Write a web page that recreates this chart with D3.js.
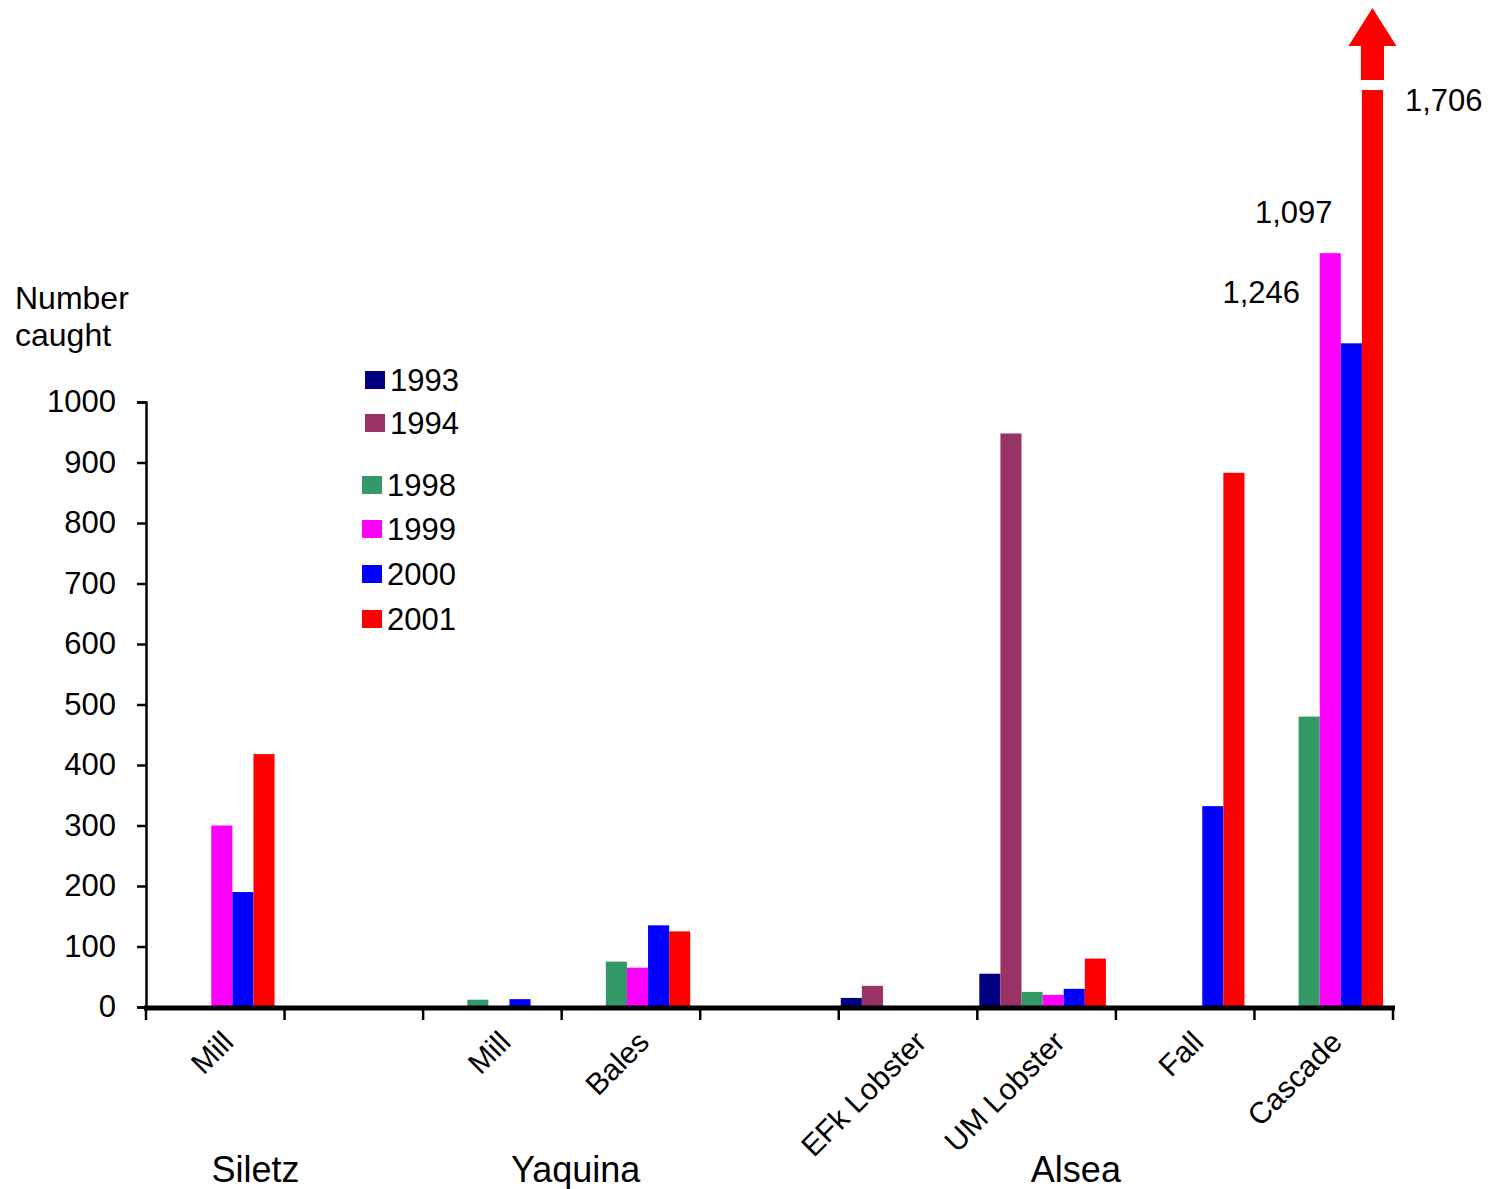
<!DOCTYPE html>
<html>
<head>
<meta charset="utf-8">
<script src="https://cdn.jsdelivr.net/npm/d3@7"></script>
<style>
  body { margin: 0; background: #fff; }
  text { font-family: "Liberation Sans", Arial, sans-serif; fill: #000; }
</style>
</head>
<body>
<div id="chart-area"></div>
<script>
// categories along the x axis ("" = empty slot)
var sites = ["Mill", "", "Mill ", "Bales", " ", "EFk Lobster", "UM Lobster", "Fall", "Cascade"];
var years = ["1993", "1994", "1998", "1999", "2000", "2001"];
var colors = ["#000080", "#993366", "#339966", "#ff00ff", "#0000ff", "#ff0000"];

// values per year, one entry per site (0 = no bar)
var v1993 = [0, 0, 0, 0, 0, 15, 55, 0, 0];
var v1994 = [0, 0, 0, 0, 0, 35, 948, 0, 0];
var v1998 = [0, 0, 12, 75, 0, 0, 25, 0, 480];
var v1999 = [300, 0, 0, 65, 0, 0, 20, 0, 1246];
var v2000 = [190, 0, 13, 135, 0, 0, 30, 332, 1097];
var v2001 = [418, 0, 0, 125, 0, 0, 80, 883, 1706];
var series = [v1993, v1994, v1998, v1999, v2000, v2001];

var yTicks = [0, 100, 200, 300, 400, 500, 600, 700, 800, 900, 1000];
var rivers = ["Siletz", "Yaquina", "Alsea"];

var svg = d3.select('#chart-area').append('svg')
    .attr('width', 1492)
    .attr('height', 1189);

var x0 = d3.scaleBand()
    .domain(sites)
    .range([146, 1393]);

var x1 = d3.scaleBand()
    .domain(years)
    .range([2, x0.bandwidth() - 10]);

var y = d3.scaleLinear()
    .domain([0, 1000])
    .range([1007, 402]);

// bars
var barTop = 90;   // the tallest bar is cut here and continued by an arrow
series.forEach((vals, si) => {
    svg.append('g')
        .selectAll('rect')
        .data(vals.map((v, i) => ({site: sites[i], value: v})).filter(d => d.value > 0))
        .enter()
        .append('rect')
            .attr('x', d => x0(d.site) + x1(years[si]))
            .attr('y', d => Math.max(y(d.value), barTop))
            .attr('width', x1.bandwidth())
            .attr('height', d => y(0) - Math.max(y(d.value), barTop))
            .attr('fill', colors[si]);
});

// arrow above the cut bar (Cascade 2001)
var ax = x0("Cascade") + x1("2001");
var aw = x1.bandwidth();
svg.append('rect')
    .attr('x', ax - 1).attr('y', 46)
    .attr('width', aw + 2).attr('height', 34)
    .attr('fill', colors[5]);
svg.append('path')
    .attr('d', 'M' + (ax + aw / 2 - 24) + ',46 L' + (ax + aw / 2) + ',8 L' + (ax + aw / 2 + 24) + ',46 Z')
    .attr('fill', colors[5]);

// y axis
var yAxis = svg.append('g')
    .attr('transform', 'translate(146,0)')
    .call(d3.axisLeft(y).tickValues(yTicks).tickFormat(d3.format('d')).tickSize(9).tickPadding(21));
yAxis.select('.domain').attr('stroke-width', 2.5);
yAxis.selectAll('.tick line').attr('stroke-width', 2.5);
yAxis.selectAll('.tick text')
    .style('font-size', '31px')
    .style('font-family', '"Liberation Sans", Arial, sans-serif');

// x axis
var tickPos = sites.map(s => x0(s)).concat([1393]);
svg.append('line')
    .attr('x1', 144).attr('x2', 1395)
    .attr('y1', 1008).attr('y2', 1008)
    .attr('stroke', '#000').attr('stroke-width', 5);
svg.append('g').selectAll('line')
    .data(tickPos)
    .enter()
    .append('line')
        .attr('x1', d => d).attr('x2', d => d)
        .attr('y1', 1008).attr('y2', 1020)
        .attr('stroke', '#000').attr('stroke-width', 2.5);

// category labels
svg.append('g').selectAll('text')
    .data(sites.filter(s => s.trim() != ""))
    .enter()
    .append('text')
        .attr('transform', d => 'translate(' + (x0(d) + x0.bandwidth() / 2 + 20) + ',1044) rotate(-45)')
        .attr('text-anchor', 'end')
        .style('font-size', '30px')
        .text(d => d.trim());

// river names
var riverX = [x0("Mill") + x0.bandwidth() * 0.79, x0("Bales") + 14, x0("Fall") - 40];
svg.append('g').selectAll('text')
    .data(rivers)
    .enter()
    .append('text')
        .attr('x', (d, i) => riverX[i])
        .attr('y', 1182)
        .attr('text-anchor', 'middle')
        .style('font-size', '36px')
        .text(d => d);

// y title
svg.append('text').attr('x', 15).attr('y', 309).style('font-size', '32px').text('Number');
svg.append('text').attr('x', 15).attr('y', 346).style('font-size', '32px').text('caught');

// legend
var legendY = [380, 423, 485, 529, 574, 619];
var legendX = [365, 365, 362, 362, 362, 362];
years.forEach((yr, i) => {
    svg.append('rect')
        .attr('x', legendX[i]).attr('y', legendY[i] - 9)
        .attr('width', 20).attr('height', 18)
        .attr('fill', colors[i]);
    svg.append('text')
        .attr('x', legendX[i] + 25).attr('y', legendY[i] + 11)
        .style('font-size', '31px')
        .text(yr);
});

// value labels for the Cascade bars
svg.append('text').attr('x', 1405).attr('y', 111).style('font-size', '31px').text(d3.format(',')(v2001[8]));
svg.append('text').attr('x', 1255).attr('y', 223).style('font-size', '31px').text(d3.format(',')(v2000[8]));
svg.append('text').attr('x', 1300).attr('y', 303).attr('text-anchor', 'end').style('font-size', '31px').text(d3.format(',')(v1999[8]));
</script>
</body>
</html>
